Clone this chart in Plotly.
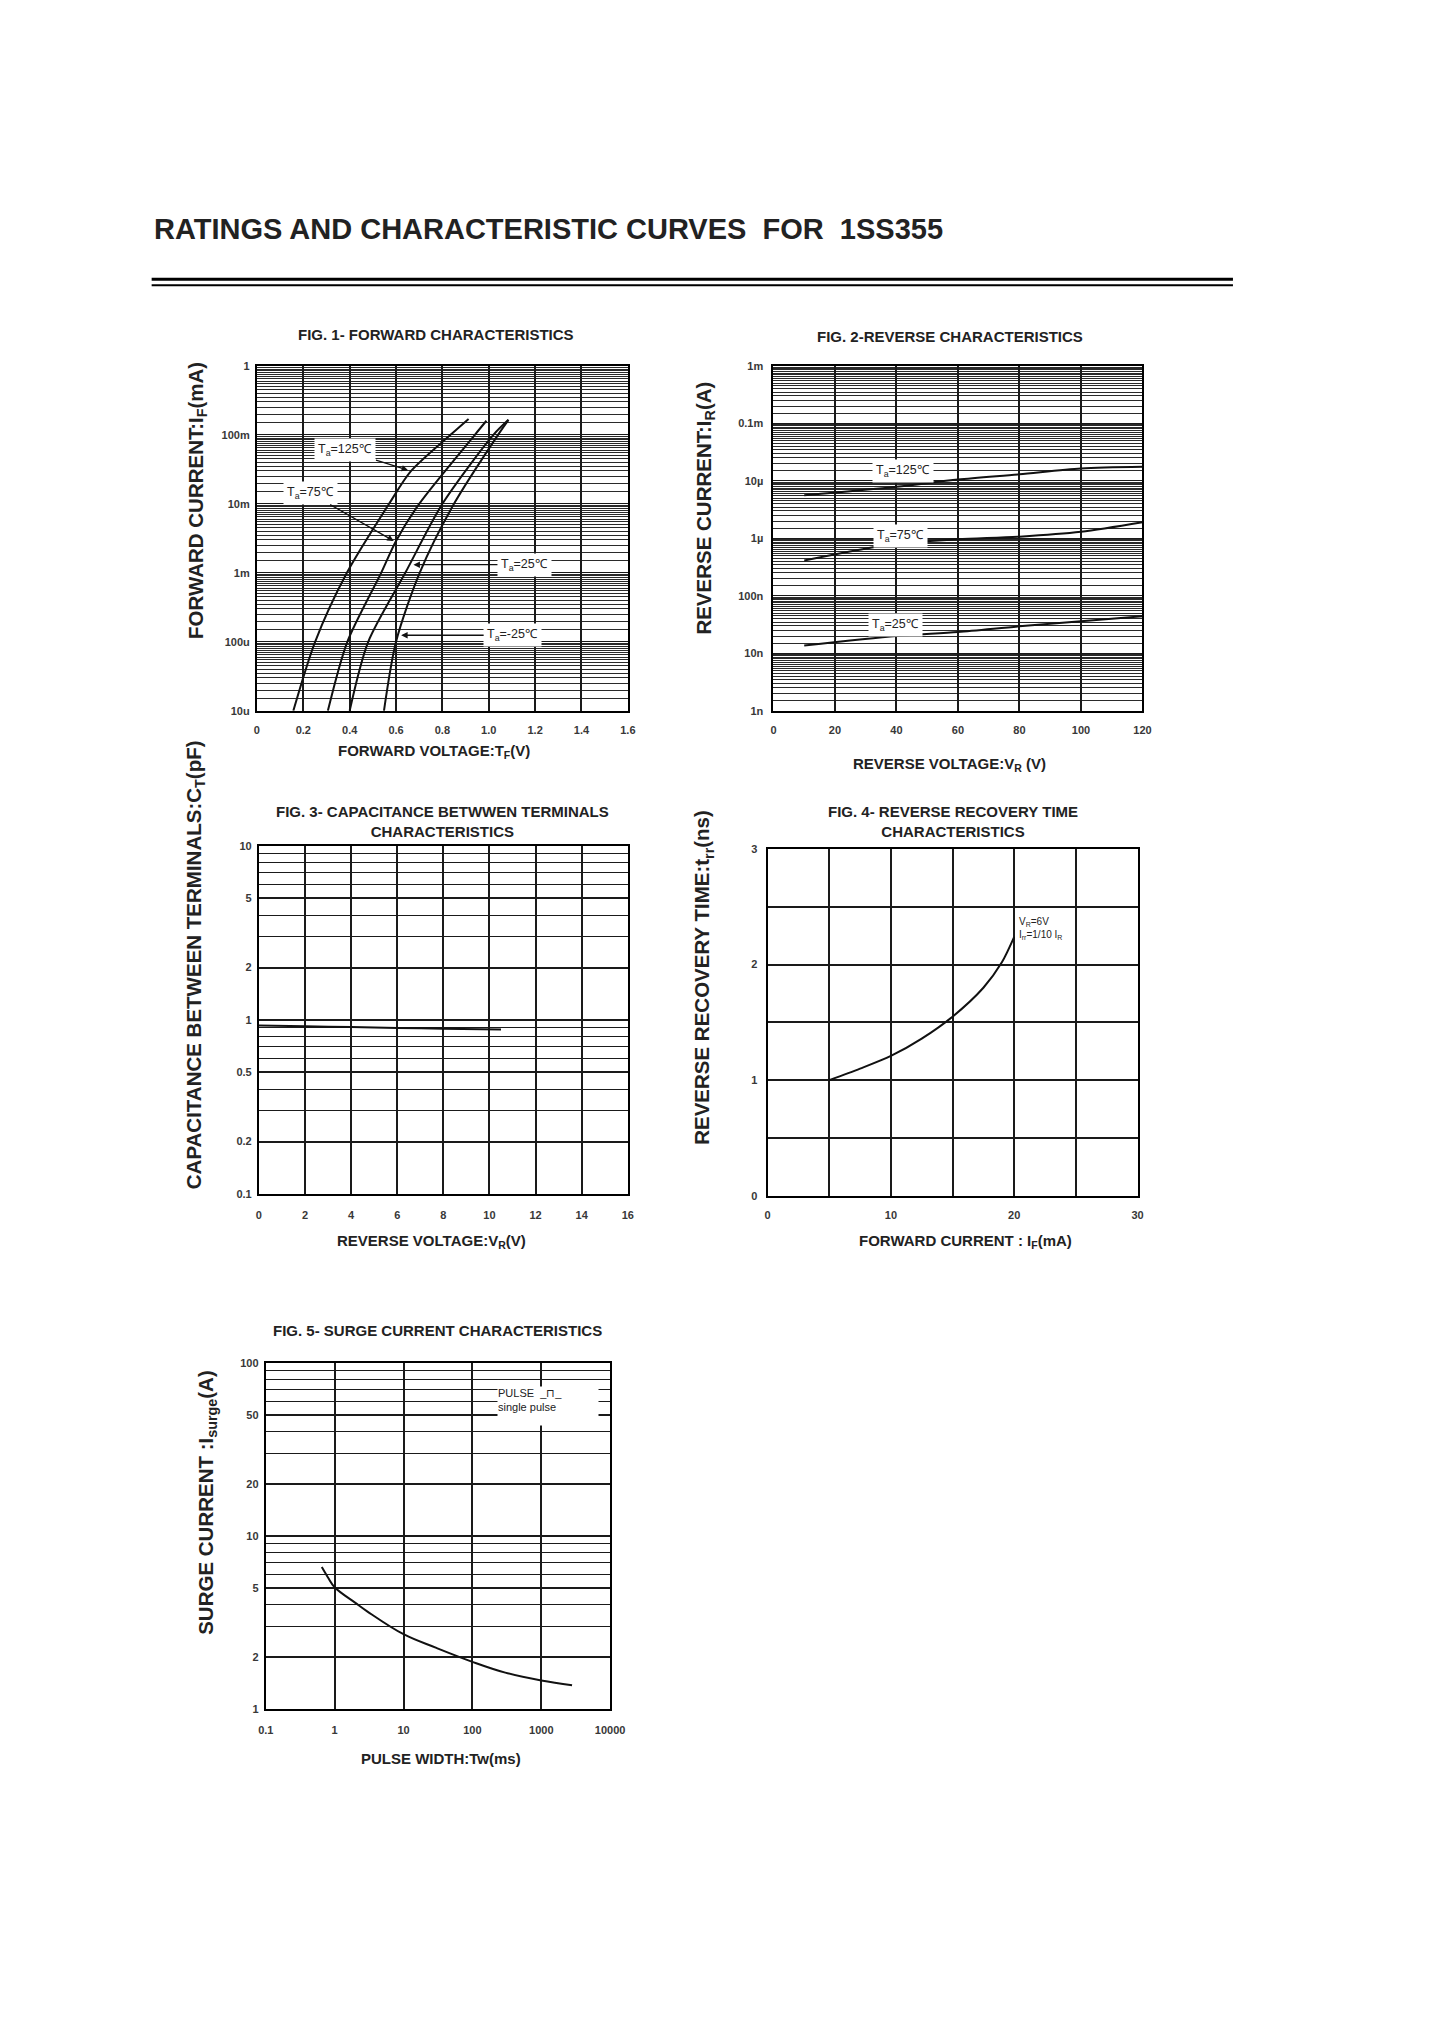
import numpy as np
import plotly.graph_objects as go

# ---- data ----
# Fig. 1 forward characteristics (V, A)
fwd_i_125 = [1e-5, 1e-4, 1e-3, 1e-2, 3e-2, 1e-1, 0.17]
fwd_v_125 = [0.157, 0.251, 0.388, 0.57, 0.665, 0.835, 0.913]
fwd_i_75 = [1e-5, 1e-4, 1e-3, 2.9e-3, 1e-2, 1e-1, 0.16]
fwd_v_75 = [0.306, 0.39, 0.536, 0.60, 0.70, 0.94, 0.99]
fwd_i_25 = [1e-5, 1e-4, 1e-3, 1e-2, 1e-1, 0.165]
fwd_v_25 = [0.40, 0.48, 0.64, 0.80, 1.02, 1.085]
fwd_i_m25 = [1e-5, 1e-4, 1e-3, 1e-2, 1e-1, 0.165]
fwd_v_m25 = [0.548, 0.60, 0.702, 0.85, 1.04, 1.085]
fwd_x_ticks = [0, 0.2, 0.4, 0.6, 0.8, 1.0, 1.2, 1.4, 1.6]
fwd_x_text = ["0", "0.2", "0.4", "0.6", "0.8", "1.0", "1.2", "1.4", "1.6"]
fwd_y_ticks = [1e-5, 1e-4, 1e-3, 1e-2, 1e-1, 1]
fwd_y_text = ["10u", "100u", "1m", "10m", "100m", "1"]

# Fig. 2 reverse characteristics (V, A)
rev_v = [10, 40, 60, 80, 100, 120]
rev_i_125 = [5.6e-6, 7.9e-6, 1.05e-5, 1.3e-5, 1.64e-5, 1.75e-5]
rev_i_75 = [4.1e-7, 8.1e-7, 9.6e-7, 1.07e-6, 1.3e-6, 1.9e-6]
rev_i_25 = [1.37e-8, 2.0e-8, 2.35e-8, 2.95e-8, 3.6e-8, 4.4e-8]
rev_y_ticks = [1e-9, 1e-8, 1e-7, 1e-6, 1e-5, 1e-4, 1e-3]
rev_y_text = ["1n", "10n", "100n", "1µ", "10µ", "0.1m", "1m"]

# Fig. 3 capacitance (V, pF)
cap_v = [0, 2, 4, 6, 8, 10.5]
cap_pf = [0.93, 0.92, 0.91, 0.90, 0.89, 0.88]
cap_y_ticks = [0.1, 0.2, 0.5, 1, 2, 5, 10]
cap_y_text = ["0.1", "0.2", "0.5", "1", "2", "5", "10"]

# Fig. 4 reverse recovery time (mA, ns)
trr_if = [5, 7.5, 10, 12.5, 15, 17.5, 19, 20]
trr_ns = [1.0, 1.1, 1.21, 1.36, 1.55, 1.8, 2.02, 2.24]

# Fig. 5 surge current (ms, A)
surge_tw = [0.65, 0.8, 1, 2, 3, 10, 30, 100, 300, 1000, 2800]
surge_a = [6.6, 5.75, 5.05, 4.1, 3.65, 2.7, 2.25, 1.87, 1.62, 1.46, 1.37]
surge_x_ticks = [0.1, 1, 10, 100, 1000, 10000]
surge_x_text = ["0.1", "1", "10", "100", "1000", "10000"]
surge_y_ticks = [1, 2, 5, 10, 20, 50, 100]
surge_y_text = ["1", "2", "5", "10", "20", "50", "100"]

W, H = 1429, 2023
FONT = "Liberation Sans"


def px(x):
    return x / W


def py(y):
    return 1 - y / H


def minor_vals(lo, hi, steps):
    return [k * 10.0 ** d for d in range(lo, hi) for k in steps]


DENSE = [1.5, 2, 2.5, 3, 3.5, 4, 4.5, 5, 5.5, 6, 6.5, 7, 7.5, 8, 8.5, 9, 9.5]
PLAIN = [2, 3, 4, 5, 6, 7, 8, 9]


def axis(**kw):
    base = dict(
        showline=True, mirror=True, linecolor="black", linewidth=2,
        ticks="", showgrid=True, gridcolor="#1a1a1a", gridwidth=1.6,
        zeroline=False, fixedrange=True,
        tickfont=dict(family=FONT, size=11, color="#383838", weight="bold"),
    )
    base.update(kw)
    return base


fig = go.Figure()
line = dict(color="#111", width=2, shape="spline", smoothing=0.8)

for v, i in [(fwd_v_125, fwd_i_125), (fwd_v_75, fwd_i_75),
             (fwd_v_25, fwd_i_25), (fwd_v_m25, fwd_i_m25)]:
    fig.add_trace(go.Scatter(x=v, y=i, mode="lines", line=line, xaxis="x", yaxis="y"))
for i in [rev_i_125, rev_i_75, rev_i_25]:
    fig.add_trace(go.Scatter(x=rev_v, y=i, mode="lines", line=line, xaxis="x2", yaxis="y2"))
fig.add_trace(go.Scatter(x=cap_v, y=cap_pf, mode="lines", line=line, xaxis="x3", yaxis="y3"))
fig.add_trace(go.Scatter(x=trr_if, y=trr_ns, mode="lines", line=line, xaxis="x4", yaxis="y4"))
fig.add_trace(go.Scatter(x=surge_tw, y=surge_a, mode="lines",
                         line=dict(line, smoothing=1.1), xaxis="x5", yaxis="y5"))

fig.update_layout(
    width=W, height=H, autosize=False, showlegend=False,
    margin=dict(l=0, r=0, t=0, b=0),
    paper_bgcolor="white", plot_bgcolor="white",
    font=dict(family=FONT, color="#111"),
    # fig 1
    xaxis=axis(domain=[px(253), px(630)], range=[0, 1.6], anchor="y",
               tickvals=fwd_x_ticks, ticktext=fwd_x_text, ticklabelstandoff=8),
    yaxis=axis(domain=[py(709), py(362)], type="log", range=[-5, 0], anchor="x",
               tickvals=fwd_y_ticks, ticktext=fwd_y_text, ticklabelstandoff=3,
               gridwidth=1.3,
               minor=dict(tickmode="array", tickvals=minor_vals(-5, 0, DENSE),
                          showgrid=True, gridcolor="#2a2a2a", gridwidth=1)),
    # fig 2
    xaxis2=axis(domain=[px(778), px(1153)], range=[0, 120], anchor="y2",
                dtick=20, ticklabelstandoff=8),
    yaxis2=axis(domain=[py(709), py(362)], type="log", range=[-9, -3], anchor="x2",
                tickvals=rev_y_ticks, ticktext=rev_y_text, ticklabelstandoff=6,
                gridwidth=1.3,
                minor=dict(tickmode="array", tickvals=minor_vals(-9, -3, DENSE),
                           showgrid=True, gridcolor="#2a2a2a", gridwidth=1)),
    # fig 3
    xaxis3=axis(domain=[px(255), px(630)], range=[0, 16], anchor="y3",
                dtick=2, ticklabelstandoff=10),
    yaxis3=axis(domain=[py(1195), py(845)], type="log", range=[-1, 1], anchor="x3",
                tickvals=cap_y_ticks, ticktext=cap_y_text, ticklabelstandoff=3,
                minor=dict(tickmode="array", tickvals=minor_vals(-1, 1, PLAIN),
                           showgrid=True, gridcolor="#1a1a1a", gridwidth=1.3)),
    # fig 4
    xaxis4=axis(domain=[px(772), px(1148)], range=[0, 30], anchor="y4",
                dtick=10, ticklabelstandoff=8,
                minor=dict(dtick=5, showgrid=True, gridcolor="#1a1a1a", gridwidth=1.6)),
    yaxis4=axis(domain=[py(1197), py(848)], range=[0, 3], anchor="x4",
                dtick=1, ticklabelstandoff=6,
                minor=dict(dtick=0.5, showgrid=True, gridcolor="#1a1a1a", gridwidth=1.6)),
    # fig 5
    xaxis5=axis(domain=[px(262), px(612)], type="log", range=[-1, 4], anchor="y5",
                tickvals=surge_x_ticks, ticktext=surge_x_text, ticklabelstandoff=10),
    yaxis5=axis(domain=[py(1713), py(1365)], type="log", range=[0, 2], anchor="x5",
                tickvals=surge_y_ticks, ticktext=surge_y_text, ticklabelstandoff=3,
                minor=dict(tickmode="array", tickvals=minor_vals(0, 2, PLAIN),
                           showgrid=True, gridcolor="#1a1a1a", gridwidth=1.3)),
)

ann = []


def text(x, y, s, size=15, angle=0, xanchor="center"):
    ann.append(dict(xref="paper", yref="paper", x=px(x), y=py(y), text=s,
                    showarrow=False, textangle=angle,
                    xanchor=xanchor, yanchor="middle",
                    font=dict(family=FONT, size=size, color="#222", weight="bold")))


text(146, 224, "RATINGS AND CHARACTERISTIC CURVES  FOR  1SS355", size=29,
     xanchor="left")

# figure titles
text(435, 330, "FIG. 1- FORWARD CHARACTERISTICS")
text(957, 332, "FIG. 2-REVERSE CHARACTERISTICS")
text(442, 820, "FIG. 3- CAPACITANCE BETWWEN TERMINALS<br>CHARACTERISTICS")
text(960, 820, "FIG. 4- REVERSE RECOVERY TIME<br>CHARACTERISTICS")
text(437, 1332, "FIG. 5- SURGE CURRENT CHARACTERISTICS")

# x axis titles
text(433, 750, "FORWARD VOLTAGE:T<sub>F</sub>(V)")
text(957, 763, "REVERSE VOLTAGE:V<sub>R</sub> (V)")
text(430, 1243, "REVERSE VOLTAGE:V<sub>R</sub>(V)")
text(973, 1243, "FORWARD CURRENT : I<sub>F</sub>(mA)")
text(440, 1763, "PULSE WIDTH:Tw(ms)")

# y axis titles
text(192, 497, "FORWARD CURRENT:I<sub>F</sub>(mA)", size=20.5, angle=-90)
text(708, 505, "REVERSE CURRENT:I<sub>R</sub>(A)", size=20.5, angle=-90)
text(190, 964, "CAPACITANCE BETWEEN TERMINALS:C<sub>T</sub>(pF)", size=20.5, angle=-90)
text(707, 977, "REVERSE RECOVERY TIME:t<sub>rr</sub>(ns)", size=20.5, angle=-90)
text(202, 1505, "SURGE CURRENT :I<sub>surge</sub>(A)", size=20.5, angle=-90)

lab_font = dict(family=FONT, size=12.5, color="#222")


def temp_label(xr, yr, tx, ty, s, hx=None, hy=None):
    d = dict(xref=xr, yref=yr, text=s, font=lab_font, bgcolor="white", borderpad=3)
    if hx is None:
        d.update(x=tx, y=ty, showarrow=False)
    else:
        d.update(x=hx, y=hy, ax=tx, ay=ty, axref=xr, ayref=yr, showarrow=True,
                 arrowhead=2, arrowsize=1, arrowwidth=1.3, arrowcolor="#111", standoff=0)
    ann.append(d)


temp_label("x", "y", 0.382, -1.225, "T<sub>a</sub>=125℃", 0.652, np.log10(0.0307))
temp_label("x", "y", 0.229, -1.844, "T<sub>a</sub>=75℃", 0.59, np.log10(2.9e-3))
temp_label("x", "y", 1.154, -2.882, "T<sub>a</sub>=25℃", 0.675, -2.882)
temp_label("x", "y", 1.103, -3.905, "T<sub>a</sub>=-25℃", 0.622, -3.905)

temp_label("x2", "y2", 42.2, -4.83, "T<sub>a</sub>=125℃")
temp_label("x2", "y2", 41.3, -5.96, "T<sub>a</sub>=75℃")
temp_label("x2", "y2", 39.7, -7.50, "T<sub>a</sub>=25℃")

ann.append(dict(xref="x4", yref="y4", x=20.2, y=2.44, xanchor="left", yanchor="top",
                showarrow=False, align="left",
                text="V<sub>R</sub>=6V<br>I<sub>rr</sub>=1/10 I<sub>R</sub>",
                font=dict(family=FONT, size=10, color="#222")))

ann.append(dict(xref="paper", yref="paper", x=px(497), y=py(1388),
                xanchor="left", yanchor="top", showarrow=False, align="left",
                valign="top", width=100, height=38, bgcolor="white", borderpad=0,
                text="PULSE  _⊓_<br>single pulse",
                font=dict(family=FONT, size=11, color="#222")))

fig.update_layout(annotations=ann)

# double rule under the heading
for yy, wd in [(275, 3), (281, 2)]:
    fig.add_shape(type="line", xref="paper", yref="paper",
                  x0=px(146), x1=px(1245), y0=py(yy), y1=py(yy),
                  line=dict(color="black", width=wd))

fig.write_html("out.html", config={"displayModeBar": False},
               post_script="document.body.style.margin='0';")
